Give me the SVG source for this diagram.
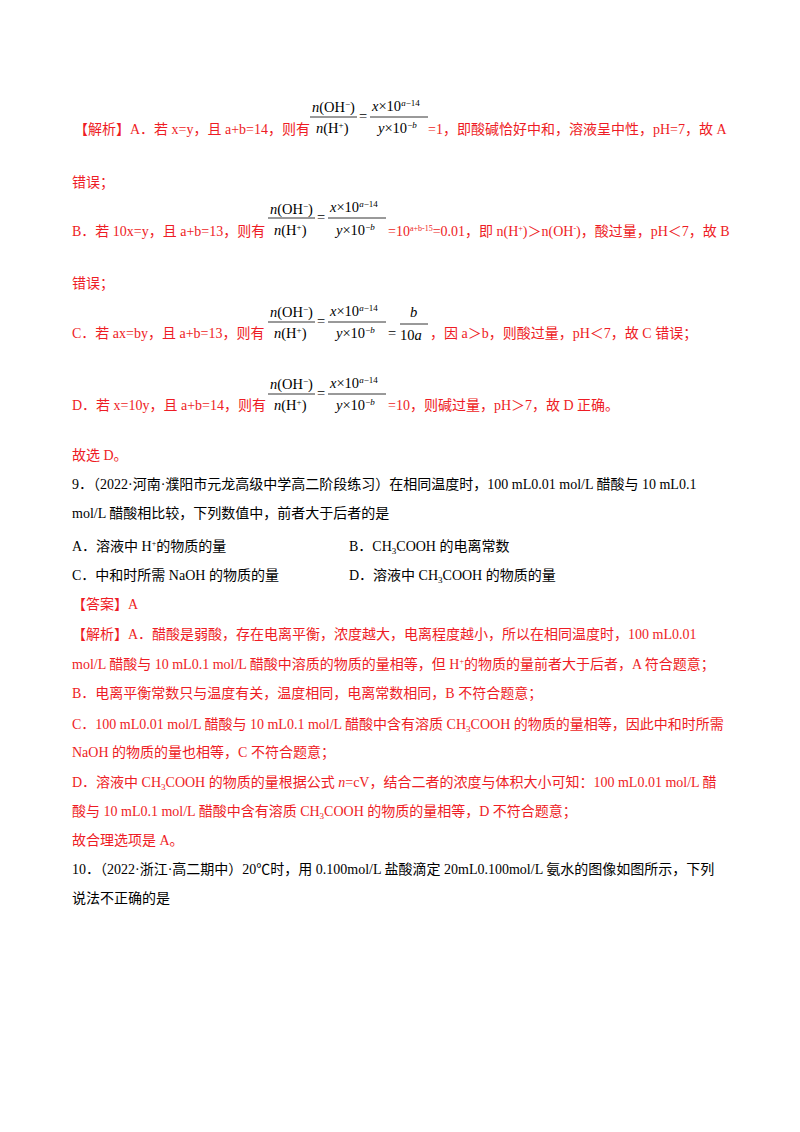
<svg xmlns="http://www.w3.org/2000/svg" width="800" height="1132" viewBox="0 0 800 1132">
<style>
text{font-family:"Liberation Serif","Noto Sans CJK SC",serif;font-size:14px;fill:#000}
.r{fill:#ee1c25}
.f{font-size:14.5px;font-family:"Liberation Serif",serif}
.i{font-style:italic}
.s{font-size:9px}
line{stroke:#000;stroke-width:0.8}
</style>
<rect width="800" height="1132" fill="#fff"/>
<!-- A -->
<text class="r" x="74" y="134">【解析】A．若 x=y，且 a+b=14，则有</text>
<g>
<text class="f" x="312" y="112"><tspan class="i">n</tspan>(OH<tspan class="s" dy="-5">−</tspan><tspan dy="5">)</tspan></text>
<line x1="310" y1="117" x2="357" y2="117"/>
<text class="f" x="316" y="133"><tspan class="i">n</tspan>(H<tspan class="s" dy="-5">+</tspan><tspan dy="5">)</tspan></text>
<text class="f" x="359" y="121">=</text>
<text class="f" x="372" y="111"><tspan class="i">x</tspan>×10<tspan class="s i" dy="-5">a</tspan><tspan class="s">−14</tspan></text>
<line x1="370" y1="117" x2="428" y2="117"/>
<text class="f" x="378" y="133"><tspan class="i">y</tspan>×10<tspan class="s" dy="-5">−</tspan><tspan class="s i">b</tspan></text>
</g>
<text class="r" x="428" y="134">=1，即酸碱恰好中和，溶液呈中性，pH=7，故 A</text>
<text class="r" x="72" y="187">错误；</text>
<!-- B -->
<text class="r" x="72" y="236">B．若 10x=y，且 a+b=13，则有</text>
<g>
<text class="f" x="270" y="214"><tspan class="i">n</tspan>(OH<tspan class="s" dy="-5">−</tspan><tspan dy="5">)</tspan></text>
<line x1="268" y1="218" x2="315" y2="218"/>
<text class="f" x="274" y="235"><tspan class="i">n</tspan>(H<tspan class="s" dy="-5">+</tspan><tspan dy="5">)</tspan></text>
<text class="f" x="317" y="222">=</text>
<text class="f" x="330" y="212"><tspan class="i">x</tspan>×10<tspan class="s i" dy="-5">a</tspan><tspan class="s">−14</tspan></text>
<line x1="328" y1="218" x2="386" y2="218"/>
<text class="f" x="336" y="235"><tspan class="i">y</tspan>×10<tspan class="s" dy="-5">−</tspan><tspan class="s i">b</tspan></text>
</g>
<text class="r" x="388" y="236">=10<tspan font-size="8" dy="-5">a+b-15</tspan><tspan dy="5">=0.01，即 n(H</tspan><tspan font-size="8" dy="-5">+</tspan><tspan dy="5">)＞n(OH</tspan><tspan font-size="8" dy="-5">-</tspan><tspan dy="5">)，酸过量，pH＜7，故 B</tspan></text>
<text class="r" x="72" y="288">错误；</text>
<!-- C -->
<text class="r" x="72" y="338">C．若 ax=by，且 a+b=13，则有</text>
<g>
<text class="f" x="270" y="317"><tspan class="i">n</tspan>(OH<tspan class="s" dy="-5">−</tspan><tspan dy="5">)</tspan></text>
<line x1="268" y1="322" x2="315" y2="322"/>
<text class="f" x="274" y="338"><tspan class="i">n</tspan>(H<tspan class="s" dy="-5">+</tspan><tspan dy="5">)</tspan></text>
<text class="f" x="317" y="326">=</text>
<text class="f" x="330" y="316"><tspan class="i">x</tspan>×10<tspan class="s i" dy="-5">a</tspan><tspan class="s">−14</tspan></text>
<line x1="328" y1="322" x2="386" y2="322"/>
<text class="f" x="336" y="338"><tspan class="i">y</tspan>×10<tspan class="s" dy="-5">−</tspan><tspan class="s i">b</tspan></text>
<text class="f" x="388" y="338">=</text>
<text class="f i" x="410" y="317">b</text>
<line x1="400" y1="324" x2="428" y2="324"/>
<text class="f" x="400" y="340">10<tspan class="i">a</tspan></text>
</g>
<text class="r" x="430" y="338">，因 a＞b，则酸过量，pH＜7，故 C 错误；</text>
<!-- D -->
<text class="r" x="72" y="410">D．若 x=10y，且 a+b=14，则有</text>
<g>
<text class="f" x="270" y="389"><tspan class="i">n</tspan>(OH<tspan class="s" dy="-5">−</tspan><tspan dy="5">)</tspan></text>
<line x1="268" y1="394" x2="315" y2="394"/>
<text class="f" x="274" y="410"><tspan class="i">n</tspan>(H<tspan class="s" dy="-5">+</tspan><tspan dy="5">)</tspan></text>
<text class="f" x="317" y="398">=</text>
<text class="f" x="330" y="388"><tspan class="i">x</tspan>×10<tspan class="s i" dy="-5">a</tspan><tspan class="s">−14</tspan></text>
<line x1="328" y1="394" x2="386" y2="394"/>
<text class="f" x="336" y="410"><tspan class="i">y</tspan>×10<tspan class="s" dy="-5">−</tspan><tspan class="s i">b</tspan></text>
</g>
<text class="r" x="388" y="410">=10，则碱过量，pH＞7，故 D 正确。</text>
<text class="r" x="72" y="460">故选 D。</text>
<!-- Q9 -->
<text x="72" y="489">9．（2022·河南·濮阳市元龙高级中学高二阶段练习）在相同温度时，100 mL0.01 mol/L 醋酸与 10 mL0.1</text>
<text x="72" y="518">mol/L 醋酸相比较，下列数值中，前者大于后者的是</text>
<text x="72" y="551">A．溶液中 H<tspan font-size="8" dy="-5">+</tspan><tspan dy="5">的物质的量</tspan></text>
<text x="349" y="551">B．CH<tspan font-size="9" dy="3">3</tspan><tspan dy="-3">COOH 的电离常数</tspan></text>
<text x="72" y="580">C．中和时所需 NaOH 的物质的量</text>
<text x="349" y="580">D．溶液中 CH<tspan font-size="9" dy="3">3</tspan><tspan dy="-3">COOH 的物质的量</tspan></text>
<text class="r" x="72" y="609">【答案】A</text>
<text class="r" x="72" y="639">【解析】A．醋酸是弱酸，存在电离平衡，浓度越大，电离程度越小，所以在相同温度时，100 mL0.01</text>
<text class="r" x="72" y="669">mol/L 醋酸与 10 mL0.1 mol/L 醋酸中溶质的物质的量相等，但 H<tspan font-size="8" dy="-5">+</tspan><tspan dy="5">的物质的量前者大于后者，A 符合题意；</tspan></text>
<text class="r" x="72" y="698">B．电离平衡常数只与温度有关，温度相同，电离常数相同，B 不符合题意；</text>
<text class="r" x="72" y="729">C．100 mL0.01 mol/L 醋酸与 10 mL0.1 mol/L 醋酸中含有溶质 CH<tspan font-size="9" dy="3">3</tspan><tspan dy="-3">COOH 的物质的量相等，因此中和时所需</tspan></text>
<text class="r" x="72" y="757">NaOH 的物质的量也相等，C 不符合题意；</text>
<text class="r" x="72" y="787">D．溶液中 CH<tspan font-size="9" dy="3">3</tspan><tspan dy="-3">COOH 的物质的量根据公式 </tspan><tspan font-style="italic">n</tspan>=cV，结合二者的浓度与体积大小可知：100 mL0.01 mol/L 醋</text>
<text class="r" x="72" y="816">酸与 10 mL0.1 mol/L 醋酸中含有溶质 CH<tspan font-size="9" dy="3">3</tspan><tspan dy="-3">COOH 的物质的量相等，D 不符合题意；</tspan></text>
<text class="r" x="72" y="845">故合理选项是 A。</text>
<text x="72" y="874">10．（2022·浙江·高二期中）20℃时，用 0.100mol/L 盐酸滴定 20mL0.100mol/L 氨水的图像如图所示，下列</text>
<text x="72" y="903">说法不正确的是</text>
</svg>
